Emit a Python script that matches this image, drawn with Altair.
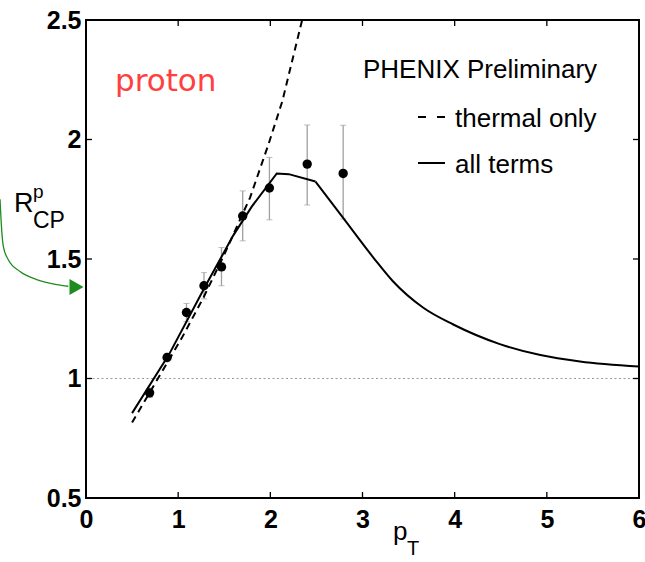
import altair as alt
import pandas as pd

# ---- data ----
pt_x = [0.69, 0.88, 1.09, 1.28, 1.47, 1.70, 1.99, 2.40, 2.79]
pt_y = [0.94, 1.088, 1.276, 1.388, 1.467, 1.68, 1.797, 1.897, 1.858]
err_lo = [0.92, 1.07, 1.238, 1.333, 1.388, 1.576, 1.664, 1.726, 1.667]
err_hi = [0.96, 1.105, 1.314, 1.443, 1.548, 1.785, 1.925, 2.061, 2.06]

# "all terms" curve: rising part and falling tail
rise_x = [0.5, 0.9, 1.3, 1.6, 1.8, 2.07, 2.2, 2.49]
rise_y = [0.855, 1.10, 1.39, 1.60, 1.72, 1.858, 1.855, 1.824]
tail_x = [2.49, 2.79, 3.12, 3.33, 3.66, 3.985, 4.49, 4.93, 5.36, 6.0]
tail_y = [1.824, 1.672, 1.505, 1.407, 1.296, 1.226, 1.144, 1.098, 1.071, 1.05]

th_x = [0.5, 1.04, 1.275, 1.51, 1.78, 1.98, 2.13, 2.345]
th_y = [0.816, 1.17, 1.339, 1.527, 1.757, 1.98, 2.16, 2.5]

x_ticks = [0, 1, 2, 3, 4, 5, 6]
y_ticks = [0.5, 1.0, 1.5, 2.0, 2.5]

# annotation arrow path (green), in data units
arr_x = [-0.933, -0.915, -0.897, -0.843, -0.716, -0.535, -0.318, -0.192]
arr_y = [1.75, 1.623, 1.553, 1.497, 1.448, 1.414, 1.393, 1.386]

W, H = 553, 478
FONT = "Liberation Sans"

xs = alt.Scale(domain=[0, 6], nice=False, zero=False)
ys = alt.Scale(domain=[0.5, 2.5], nice=False, zero=False)
xaxis = alt.Axis(values=x_ticks, title=None, grid=False, domain=False, ticks=False,
                 labelFlush=False, labelPadding=9, format="~g")
yaxis = alt.Axis(values=y_ticks, title=None, grid=False, domain=False, ticks=False,
                 labelPadding=5, format="~g")


def X(f):
    return alt.X(f, type="quantitative", scale=xs, axis=xaxis)


def Y(f):
    return alt.Y(f, type="quantitative", scale=ys, axis=yaxis)


pts = pd.DataFrame({"x": pt_x, "y": pt_y, "lo": err_lo, "hi": err_hi})
rise_df = pd.DataFrame({"x": rise_x, "y": rise_y})
tail_df = pd.DataFrame({"x": tail_x, "y": tail_y})
th_df = pd.DataFrame({"x": th_x, "y": th_y})
arr_df = pd.DataFrame({"x": arr_x, "y": arr_y})
xt = pd.DataFrame({"x": x_ticks})
yt = pd.DataFrame({"y": y_ticks})

unity = alt.Chart(pd.DataFrame({"y": [1.0]})).mark_rule(
    color="#9a9a9a", strokeDash=[2, 2.5], strokeWidth=1.2).encode(y=Y("y"))

err = alt.Chart(pts).mark_rule(color="#a0a0a0", strokeWidth=1.3).encode(
    x=X("x"), y=Y("lo"), y2="hi")
cap_hi = alt.Chart(pts).mark_tick(orient="horizontal", color="#a0a0a0", size=6, thickness=1).encode(
    x=X("x"), y=Y("hi"))
cap_lo = alt.Chart(pts).mark_tick(orient="horizontal", color="#a0a0a0", size=6, thickness=1).encode(
    x=X("x"), y=Y("lo"))

thermal = alt.Chart(th_df).mark_line(color="black", strokeWidth=2, strokeDash=[7, 5], clip=True).encode(
    x=X("x"), y=Y("y"), order="x")
rise = alt.Chart(rise_df).mark_line(color="black", strokeWidth=2).encode(
    x=X("x"), y=Y("y"), order="x")
tail = alt.Chart(tail_df).mark_line(color="black", strokeWidth=2, interpolate="monotone").encode(
    x=X("x"), y=Y("y"), order="x")
points = alt.Chart(pts).mark_circle(color="black", size=88, opacity=1).encode(x=X("x"), y=Y("y"))

# inward ticks on all four sides
t_bot = alt.Chart(xt).mark_rule(color="black", strokeWidth=1.3).encode(
    x=X("x"), y=alt.value(H), y2=alt.value(H - 6))
t_top = alt.Chart(xt).mark_rule(color="black", strokeWidth=1.3).encode(
    x=X("x"), y=alt.value(0), y2=alt.value(6))
t_left = alt.Chart(yt).mark_rule(color="black", strokeWidth=1.3).encode(
    y=Y("y"), x=alt.value(0), x2=alt.value(6))
t_right = alt.Chart(yt).mark_rule(color="black", strokeWidth=1.3).encode(
    y=Y("y"), x=alt.value(W), x2=alt.value(W - 6))

# green arrow annotation
arrow_line = alt.Chart(arr_df).mark_line(color="#1e8c1e", strokeWidth=1.3, interpolate="monotone").encode(
    x=X("x"), y=Y("y"), order=alt.Order("x"))
arrow_head = alt.Chart(pd.DataFrame({"x": [-0.103], "y": [1.383]})).mark_point(
    shape="triangle-right", filled=True, color="#1e8c1e", size=260, opacity=1).encode(
    x=X("x"), y=Y("y"))


def label(txt, px, py, size, color="black", font=FONT, weight="normal"):
    return alt.Chart(pd.DataFrame({"t": [txt]})).mark_text(
        align="left", baseline="alphabetic", font=font, fontSize=size,
        color=color, fontWeight=weight).encode(
        x=alt.value(px), y=alt.value(py), text="t:N")


texts = [
    label("proton", 29, 71, 31, color="#ff4040", font="DejaVu Sans"),
    label("PHENIX Preliminary", 277, 58, 26),
    label("thermal only", 369, 107, 26),
    label("all terms", 369, 153, 26),
    label("R", -72, 192, 27),
    label("p", -53, 178, 19),
    label("CP", -53, 208, 23),
    label("p", 307, 520, 26),
    label("T", 321, 535, 20),
]

leg_dash = alt.Chart(pd.DataFrame({"a": [0]})).mark_rule(
    color="black", strokeWidth=2, strokeDash=[8, 11]).encode(
    x=alt.value(332), x2=alt.value(359), y=alt.value(97))
leg_solid = alt.Chart(pd.DataFrame({"a": [0]})).mark_rule(
    color="black", strokeWidth=2).encode(
    x=alt.value(332), x2=alt.value(359), y=alt.value(143))

chart = alt.layer(
    unity, err, cap_hi, cap_lo, thermal, rise, tail, points,
    t_bot, t_top, t_left, t_right, arrow_line, arrow_head,
    leg_dash, leg_solid, *texts
).properties(
    width=W, height=H,
    autosize=alt.AutoSizeParams(type="none"),
    padding={"left": 86, "top": 20, "right": 6, "bottom": 64},
    background="white",
).configure_view(
    stroke="black", strokeWidth=2
).configure_axis(
    labelFont=FONT, labelFontSize=25, labelFontWeight="bold", labelColor="black"
)

chart.save("out.html", embed_options={"renderer": "svg", "actions": False})
